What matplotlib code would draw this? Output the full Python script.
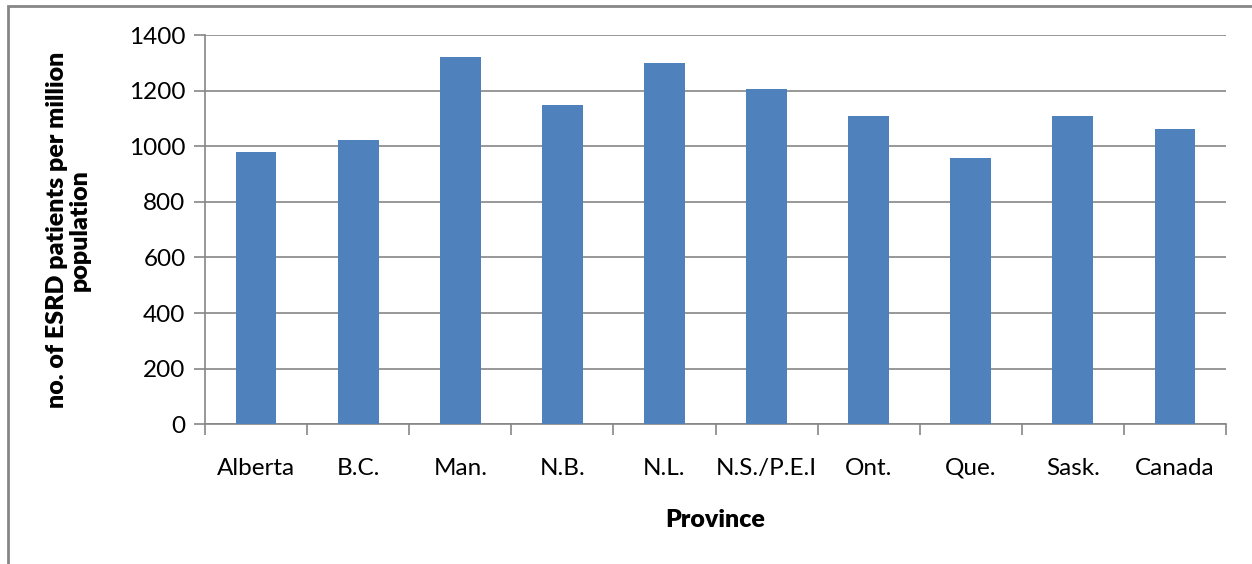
import matplotlib
matplotlib.use("Agg")
import matplotlib.pyplot as plt
from matplotlib.patches import Rectangle
import numpy as np

provinces = ["Alberta", "B.C.", "Man.", "N.B.", "N.L.", "N.S./P.E.I", "Ont.", "Que.", "Sask.", "Canada"]
values = [980, 1022, 1321, 1150, 1300, 1207, 1109, 958, 1108, 1063]
yticks = [0, 200, 400, 600, 800, 1000, 1200, 1400]

plt.rcParams['font.family'] = ['Lato', 'DejaVu Sans']

fig = plt.figure(figsize=(12.52, 5.64), dpi=100)
ax = fig.add_axes([205/1252, 1-424.3/564, (1226-205)/1252, (424.3-35)/564])

x = np.arange(len(provinces))
ax.bar(x, values, width=0.4, color="#4F81BD", zorder=3)

ax.set_xlim(-0.5, len(provinces)-0.5)
ax.set_ylim(0, 1400)
ax.set_yticks(yticks)
ax.set_yticklabels([str(v) for v in yticks], fontsize=17.5)
ax.yaxis.grid(True, color="#868686", linewidth=1.2, zorder=0)
ax.set_xticks(x)
ax.set_xticklabels(provinces, fontsize=17.5)
ax.set_xticks(np.arange(-0.5, len(provinces)), minor=True)
ax.tick_params(axis='x', which='major', length=0, pad=24)
ax.tick_params(axis='x', which='minor', length=8, width=1.2, color="#868686", direction='out')
ax.tick_params(axis='y', length=8, width=1.2, color="#868686", direction='out', pad=6)

for s in ["top", "right"]:
    ax.spines[s].set_visible(False)
for s in ["left", "bottom"]:
    ax.spines[s].set_color("#868686")
    ax.spines[s].set_linewidth(1.2)

ax.set_xlabel("Province", fontsize=18, fontweight="heavy")
ax.set_ylabel("no. of ESRD patients per million\npopulation", fontsize=18, fontweight="heavy", linespacing=1.05)
ax.yaxis.set_label_coords(-(205-91)/1021, 0.5)
ax.xaxis.set_label_coords(0.5, -(509-424.3)/389.3)

border = Rectangle((8/1252, -0.1), 1.2, 1-6/564+0.1, transform=fig.transFigure,
                   fill=False, edgecolor="#868686", linewidth=2, clip_on=False)
fig.patches.append(border)

fig.savefig("out.png", dpi=100)
